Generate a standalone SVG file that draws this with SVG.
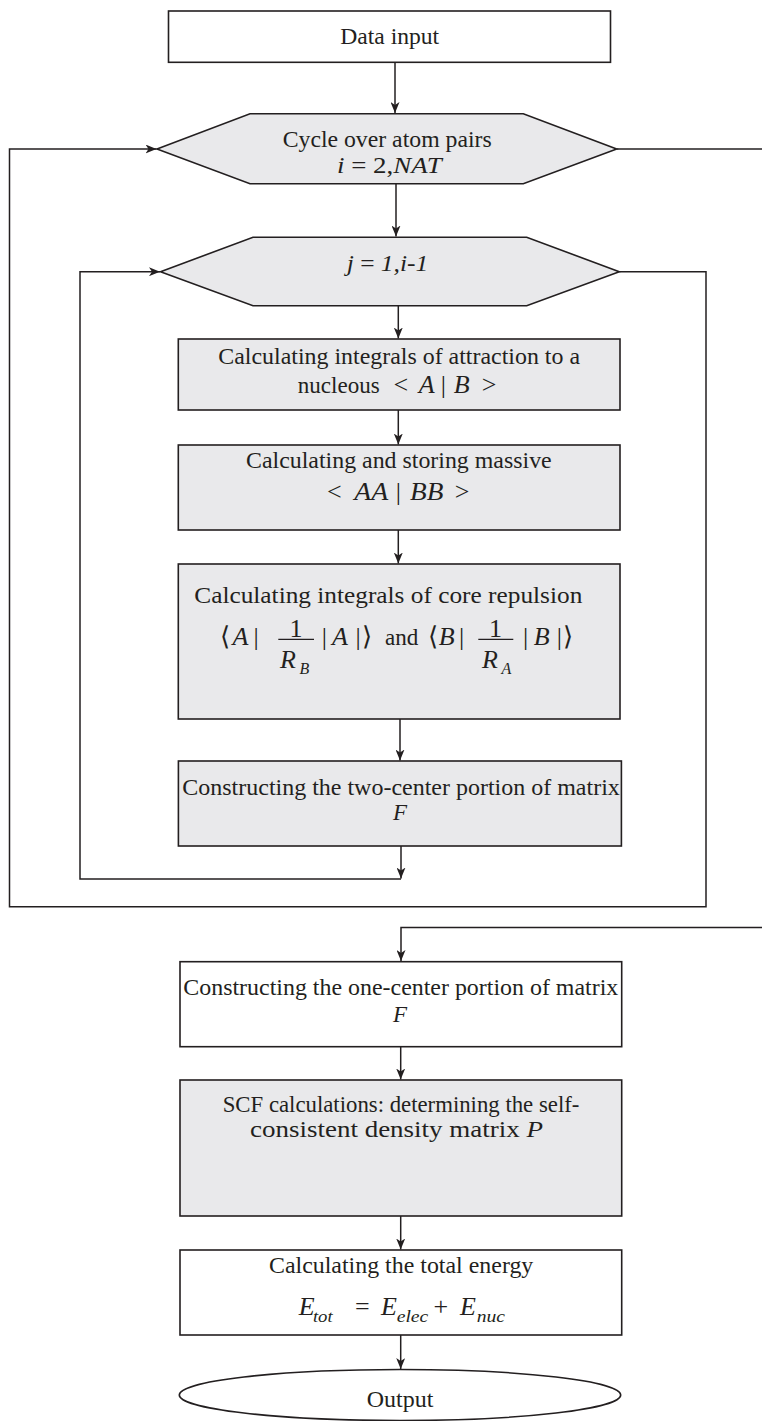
<svg xmlns="http://www.w3.org/2000/svg" width="762" height="1421" viewBox="0 0 762 1421">
<style>
.bw{fill:#ffffff;stroke:#231f20;stroke-width:1.6}
.bg{fill:#e9e9eb;stroke:#231f20;stroke-width:1.6}
.t{font-family:"Liberation Serif","Times New Roman",serif;font-size:23px;fill:#231f20}
.m{font-family:"Liberation Serif","Times New Roman",serif;font-size:26px;fill:#231f20;text-anchor:middle}
.s{font-family:"Liberation Serif","Times New Roman",serif;font-size:16px;fill:#231f20;text-anchor:middle;font-style:italic}
.i{font-style:italic}
.c{text-anchor:middle}
.ln{fill:none;stroke:#231f20;stroke-width:1.5}
.fb{stroke:#231f20;stroke-width:1.2}
</style>
<defs>
<marker id="ah" markerUnits="userSpaceOnUse" markerWidth="12" markerHeight="9" refX="11" refY="4.5" orient="auto">
<path d="M0,0 L11,4.5 L0,9 L3,4.5 z" fill="#231f20"/>
</marker>
</defs>

<g id="connectors">
<line class="ln" x1="395" y1="62.3" x2="395" y2="113" marker-end="url(#ah)"/>
<line class="ln" x1="396" y1="183.7" x2="396" y2="236.5" marker-end="url(#ah)"/>
<line class="ln" x1="398.3" y1="305.7" x2="398.3" y2="338.5" marker-end="url(#ah)"/>
<line class="ln" x1="398.3" y1="410" x2="398.3" y2="444.5" marker-end="url(#ah)"/>
<line class="ln" x1="398.3" y1="530" x2="398.3" y2="563.5" marker-end="url(#ah)"/>
<line class="ln" x1="400" y1="719" x2="400" y2="760.5" marker-end="url(#ah)"/>
<line class="ln" x1="401" y1="846" x2="401" y2="878.5" marker-end="url(#ah)"/>
<polyline class="ln" points="401,879 80,879 80,271.7 160,271.7" marker-end="url(#ah)"/>
<polyline class="ln" points="619.3,271.7 706,271.7 706,906.7 9.5,906.7 9.5,149 156.5,149" marker-end="url(#ah)"/>
<line class="ln" x1="616.7" y1="149" x2="762" y2="149"/>
<polyline class="ln" points="762,927.5 401,927.5 401,961" marker-end="url(#ah)"/>
<line class="ln" x1="400.7" y1="1046.7" x2="400.7" y2="1079.5" marker-end="url(#ah)"/>
<line class="ln" x1="400.7" y1="1216" x2="400.7" y2="1249.5" marker-end="url(#ah)"/>
<line class="ln" x1="400.7" y1="1335" x2="400.7" y2="1369" marker-end="url(#ah)"/>
</g>

<g id="data-input">
<rect class="bw" x="168.5" y="11" width="442" height="51.3"/>
<text class="t c" x="389.7" y="44" textLength="99" lengthAdjust="spacingAndGlyphs">Data input</text>
</g>

<g id="cycle-i">
<polygon class="bg" points="157,149 250,113.7 523.3,113.7 616.7,149 523.3,183.7 250,183.7"/>
<text class="t" x="282.7" y="146.7" textLength="209" lengthAdjust="spacingAndGlyphs">Cycle over atom pairs</text>
<text class="t" x="337" y="173" textLength="104.7" lengthAdjust="spacingAndGlyphs"><tspan class="i">i</tspan> = 2,<tspan class="i">NAT</tspan></text>
</g>

<g id="cycle-j">
<polygon class="bg" points="160.5,271.7 253,237.3 526.7,237.3 619.3,271.7 526.7,305.7 253,305.7"/>
<text class="t" x="346.7" y="271" textLength="81.6" lengthAdjust="spacingAndGlyphs"><tspan class="i">j</tspan> = <tspan class="i">1,i-1</tspan></text>
</g>

<g id="attraction">
<rect class="bg" x="178.3" y="339" width="441.7" height="71"/>
<text class="t" x="218.3" y="363.5" textLength="361.7" lengthAdjust="spacingAndGlyphs">Calculating integrals of attraction to a</text>
<text class="t" x="297.7" y="393.3" textLength="82" lengthAdjust="spacingAndGlyphs">nucleous</text>
<text class="m" x="400.8" y="393.3">&lt;</text>
<text class="m i" x="426.7" y="393.3">A</text>
<text class="m" x="443.3" y="393.3">|</text>
<text class="m i" x="461.7" y="393.3">B</text>
<text class="m" x="489.2" y="393.3">&gt;</text>
</g>

<g id="massive">
<rect class="bg" x="178.3" y="445" width="441.7" height="85"/>
<text class="t" x="246" y="468.3" textLength="305.7" lengthAdjust="spacingAndGlyphs">Calculating and storing massive</text>
<text class="m" x="334.3" y="500">&lt;</text>
<text class="m i" x="371.3" y="500" textLength="34" lengthAdjust="spacingAndGlyphs">AA</text>
<text class="m" x="398.3" y="500">|</text>
<text class="m i" x="426.7" y="500" textLength="33.3" lengthAdjust="spacingAndGlyphs">BB</text>
<text class="m" x="462.2" y="500">&gt;</text>
</g>

<g id="core-repulsion">
<rect class="bg" x="178.3" y="564" width="441.7" height="155"/>
<text class="t" x="194.3" y="603.3" textLength="388" lengthAdjust="spacingAndGlyphs">Calculating integrals of core repulsion</text>
<text class="m" x="225" y="645">⟨</text>
<text class="m i" x="240.5" y="645">A</text>
<text class="m" x="256" y="645">|</text>
<text class="m" x="296" y="636.5" font-size="24">1</text>
<line class="fb" x1="278.3" y1="639.3" x2="314" y2="639.3"/>
<text class="m i" x="288" y="667.5" font-size="24">R</text>
<text class="s" x="304.5" y="673.5">B</text>
<text class="m" x="324.3" y="645">|</text>
<text class="m i" x="340" y="645">A</text>
<text class="m" x="358" y="645">|</text>
<text class="m" x="366.5" y="645">⟩</text>
<text class="t c" x="401.7" y="645" textLength="33.3" lengthAdjust="spacingAndGlyphs">and</text>
<text class="m" x="433" y="645">⟨</text>
<text class="m i" x="446.8" y="645">B</text>
<text class="m" x="461.7" y="645">|</text>
<text class="m" x="495.5" y="636.5" font-size="24">1</text>
<line class="fb" x1="478.3" y1="639.3" x2="513.3" y2="639.3"/>
<text class="m i" x="490" y="667.5" font-size="24">R</text>
<text class="s" x="506.5" y="673.5">A</text>
<text class="m" x="525.7" y="645">|</text>
<text class="m i" x="541.7" y="645">B</text>
<text class="m" x="559.3" y="645">|</text>
<text class="m" x="568" y="645">⟩</text>
</g>

<g id="two-center">
<rect class="bg" x="178.4" y="761" width="443" height="85"/>
<text class="t" x="182.3" y="795" textLength="437.5" lengthAdjust="spacingAndGlyphs">Constructing the two-center portion of matrix</text>
<text class="t i c" x="400" y="820">F</text>
</g>

<g id="one-center">
<rect class="bw" x="180" y="961.7" width="441.7" height="85"/>
<text class="t" x="183.3" y="995" textLength="435" lengthAdjust="spacingAndGlyphs">Constructing the one-center portion of matrix</text>
<text class="t i c" x="400" y="1021.7">F</text>
</g>

<g id="scf">
<rect class="bg" x="180" y="1080" width="441.7" height="136"/>
<text class="t" x="222.7" y="1111.7" textLength="356.7" lengthAdjust="spacingAndGlyphs">SCF calculations: determining the self-</text>
<text class="t" x="250" y="1137" textLength="293" lengthAdjust="spacingAndGlyphs">consistent density matrix <tspan class="i">P</tspan></text>
</g>

<g id="total-energy">
<rect class="bw" x="180" y="1250" width="441.7" height="85"/>
<text class="t" x="269" y="1273.3" textLength="264.3" lengthAdjust="spacingAndGlyphs">Calculating the total energy</text>
<text class="m i" x="306.7" y="1315">E</text>
<text class="s" x="322.8" y="1322" font-size="19" textLength="19.7" lengthAdjust="spacingAndGlyphs">tot</text>
<text class="m" x="362.3" y="1315">=</text>
<text class="m i" x="389" y="1315">E</text>
<text class="s" x="412.5" y="1322" font-size="19" textLength="31.6" lengthAdjust="spacingAndGlyphs">elec</text>
<text class="m" x="440.8" y="1315">+</text>
<text class="m i" x="468" y="1315">E</text>
<text class="s" x="490.8" y="1322" font-size="19" textLength="28.3" lengthAdjust="spacingAndGlyphs">nuc</text>
</g>

<g id="output">
<ellipse class="bw" cx="400" cy="1395" rx="220.7" ry="25.5"/>
<text class="t c" x="400" y="1406.7" textLength="66.6" lengthAdjust="spacingAndGlyphs">Output</text>
</g>
</svg>
